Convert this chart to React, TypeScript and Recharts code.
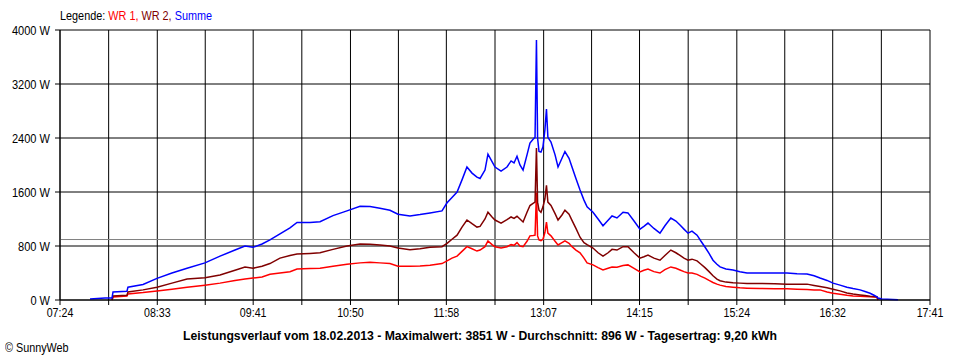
import React from 'react'
import {
  LineChart,
  Line,
  XAxis,
  YAxis,
  CartesianGrid,
  ReferenceLine
} from 'recharts'

// time of day in minutes since midnight
const times = [
  465.3, 475.9, 480.9, 481.6, 491.5, 492.2, 502.9, 512.8, 523.4, 534.1,
  546.8, 557.5, 568.1, 575.2, 580.9, 587.3, 592.9, 600.0, 607.1, 612.1,
  621.3, 628.4, 637.6, 647.5, 656.8, 663.9, 670.9, 678.0, 683.7, 692.2,
  699.3, 706.4, 714.9, 718.5, 722.0, 725.6, 729.1, 732.6, 736.2, 739.7,
  741.9, 745.4, 747.5, 750.4, 752.5, 756.8, 761.0, 763.9, 766.0, 768.1,
  770.2, 772.4, 775.2, 777.3, 779.5, 780.9, 781.9, 782.7, 783.7, 785.1,
  786.5, 787.9, 789.0, 790.0, 792.2, 795.1, 797.2, 800.0, 802.1, 805.0,
  807.1, 809.9, 812.8, 815.6, 817.8, 822.0, 825.6, 829.1, 832.7, 835.5,
  839.0, 843.3, 846.8, 851.1, 855.3, 858.1, 861.0, 865.2, 869.5, 873.0,
  877.2, 880.8, 883.7, 886.5, 889.4, 892.2, 895.8, 898.6, 901.4, 904.3,
  907.1, 909.9, 912.1, 916.3, 921.3, 926.2, 931.2, 940.4, 951.0, 959.6,
  966.7, 973.8, 978.8, 983.0, 988.0, 992.2, 997.2, 1002.1, 1006.4, 1011.4,
  1014.9, 1018.5, 1021.3, 1023.4, 1024.1, 1026.9, 1038.3
]

const summe = [
  15, 30, 30, 120, 130, 190, 230, 320, 400, 470,
  550, 650, 740, 800, 780, 830, 890, 980, 1070, 1150,
  1150, 1160, 1250, 1320, 1390, 1385, 1360, 1330, 1270, 1245,
  1265, 1290, 1320, 1440, 1520, 1600, 1780, 1970, 1880, 1820,
  1800, 1925, 2160, 2050, 1970, 1910, 1970, 2060, 2030, 2130,
  2000, 1925, 2150, 2325, 2380, 2410, 3851, 2400, 2200, 2190,
  2270, 2520, 2830, 2410, 2340, 2150, 1970, 2100, 2200, 2100,
  1970, 1800, 1630, 1480, 1380, 1300, 1200, 1100, 1180, 1245,
  1215, 1300, 1290, 1170, 1050, 1090, 1140, 1060, 990, 1100,
  1215, 1170, 1110, 1050, 990, 1020, 960, 870, 785, 690,
  590, 530, 490, 460, 445, 420, 400, 400, 400, 400,
  390, 385, 360, 325, 290, 250, 220, 190, 170, 150,
  125, 100, 70, 45, 30, 15, 5
]

const wr2 = [
  null, null, 0, 60, 70, 120, 150, 190, 250, 310,
  330, 370, 440, 490, 470, 500, 540, 620, 660, 680,
  690, 700, 750, 800, 830, 825, 815, 800, 770, 745,
  760, 780, 790, 840, 900, 960, 1080, 1185, 1130, 1080,
  1090, 1200, 1300, 1230, 1185, 1140, 1190, 1230, 1210, 1240,
  1200, 1155, 1300, 1400, 1430, 1450, 2250, 1450, 1330, 1300,
  1380, 1500, 1700, 1450, 1400, 1280, 1185, 1260, 1330, 1270,
  1180, 1060, 930, 850, 820, 770, 700, 650, 700, 750,
  740, 790, 790, 700, 620, 640, 665, 620, 590, 660,
  740, 700, 660, 620, 590, 605, 580, 530, 480, 420,
  360, 310, 285, 265, 255, 250, 245, 245, 240, 235,
  235, 235, 215, 200, 180, 160, 135, 105, 90, 75,
  65, 55, 50, 45, 0, null, null
]

const wr1 = [
  null, null, 0, 45, 60, 90, 110, 135, 160, 190,
  220, 250, 290, 310, 325, 340, 380, 400, 420, 460,
  465, 470, 500, 530, 550, 560, 550, 540, 500, 500,
  505, 515, 540, 580, 620, 650, 720, 790, 760, 725,
  740, 790, 875, 820, 790, 770, 790, 820, 810, 850,
  800, 790, 870, 950, 955, 960, 1590, 950, 890, 880,
  900, 1000, 1155, 990, 950, 870, 815, 850, 875, 840,
  790, 740, 700, 620, 550, 520, 480, 445, 470, 490,
  485, 510, 520, 470, 415, 440, 460, 420, 400, 450,
  490, 470, 445, 420, 400, 400, 380, 350, 325, 290,
  260, 235, 220, 200, 190, 180, 175, 170, 168, 165,
  160, 155, 150, 150, 120, 100, 85, 70, 60, 55,
  50, 48, 45, 45, 0, null, null
]

const timeLabels = ['07:24', '08:33', '09:41', '10:50', '11:58', '13:07', '14:15', '15:24', '16:32', '17:41']
const powerTicks = [0, 800, 1600, 2400, 3200, 4000]
const average = 896

const toMin = (s: string) => {
  const [h, m] = s.split(':').map(Number)
  return h * 60 + m
}

const labelMins = timeLabels.map(toMin)
const xTicks: number[] = []
labelMins.forEach((m, i) => {
  xTicks.push(m)
  if (i < labelMins.length - 1) xTicks.push((m + labelMins[i + 1]) / 2)
})

const data = times.map((t, i) => ({
  t,
  summe: summe[i],
  wr1: wr1[i],
  wr2: wr2[i]
}))

const font = "'Liberation Sans', Arial, sans-serif"

const fmtTime = (v: number) => {
  const idx = labelMins.indexOf(v)
  return idx >= 0 ? timeLabels[idx] : ''
}

// narrow-looking tick text (the original uses a condensed system font)
const XTick = (props: any) => {
  const { x, y, payload } = props
  return (
    <g transform={`translate(${x},${y})`}>
      <text x={0} y={0} dy="0.71em" textAnchor="middle" fill="#000" fontSize={13} fontFamily={font} transform="scale(0.82,1)">
        {fmtTime(payload.value)}
      </text>
    </g>
  )
}

const YTick = (props: any) => {
  const { x, y, payload } = props
  return (
    <g transform={`translate(${x},${y})`}>
      <text x={0} y={0} dy="0.355em" textAnchor="end" fill="#000" fontSize={13} fontFamily={font} transform="scale(0.85,1)">
        {`${payload.value} W`}
      </text>
    </g>
  )
}

const App = () => {
  return (
    <div style={{ position: 'absolute', left: 0, top: 0, width: 960, height: 360, background: '#fff', fontFamily: font }}>
      <div style={{ position: 'absolute', left: 60, top: 8, fontSize: 13, lineHeight: '16px', whiteSpace: 'nowrap', transform: 'scaleX(0.835)', transformOrigin: 'left center' }}>
        <span style={{ color: '#000' }}>Legende: </span>
        <span style={{ color: '#ff0000' }}>WR 1, </span>
        <span style={{ color: '#800000' }}>WR 2, </span>
        <span style={{ color: '#0000ff' }}>Summe</span>
      </div>
      <LineChart
        width={960}
        height={360}
        data={data}
        margin={{ top: 30, right: 30, bottom: 30, left: 5 }}
      >
        <CartesianGrid stroke="#000" strokeWidth={1} />
        <XAxis
          dataKey="t"
          type="number"
          domain={[labelMins[0], labelMins[labelMins.length - 1]]}
          ticks={xTicks}
          interval={0}
          height={30}
          axisLine={{ stroke: '#000' }}
          tickLine={{ stroke: '#000' }}
          tickSize={5}
          tickMargin={3}
          tick={<XTick />}
        />
        <YAxis
          type="number"
          domain={[0, 4000]}
          ticks={powerTicks}
          width={55}
          axisLine={{ stroke: '#000' }}
          tickLine={{ stroke: '#000' }}
          tickSize={5}
          tickMargin={5}
          tick={<YTick />}
        />
        <ReferenceLine y={average} stroke="#808080" strokeWidth={1} />
        <Line type="linear" dataKey="wr1" stroke="#ff0000" strokeWidth={1.5} dot={false} activeDot={false} isAnimationActive={false} />
        <Line type="linear" dataKey="wr2" stroke="#800000" strokeWidth={1.5} dot={false} activeDot={false} isAnimationActive={false} />
        <Line type="linear" dataKey="summe" stroke="#0000ff" strokeWidth={1.5} dot={false} activeDot={false} isAnimationActive={false} />
      </LineChart>
      <div style={{ position: 'absolute', left: 0, width: 960, top: 328, textAlign: 'center', fontSize: 13, fontWeight: 'bold', lineHeight: '16px', whiteSpace: 'nowrap', transform: 'scaleX(0.94)', transformOrigin: '479px center' }}>
        Leistungsverlauf vom 18.02.2013 - Maximalwert: 3851 W - Durchschnitt: 896 W - Tagesertrag: 9,20 kWh
      </div>
      <div style={{ position: 'absolute', left: 5, top: 341, fontSize: 12, lineHeight: '14px', whiteSpace: 'nowrap', transform: 'scaleX(0.9)', transformOrigin: 'left center' }}>
        © SunnyWeb
      </div>
    </div>
  )
}

export default App
